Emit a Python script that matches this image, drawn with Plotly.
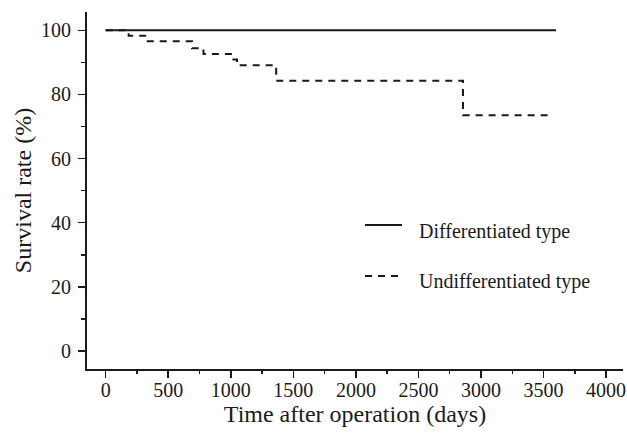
import plotly.graph_objects as go

# Kaplan-Meier style survival data
diff_days = [0, 3600]
diff_surv = [100, 100]

undiff_days = [0, 184, 325, 690, 782, 1010, 1050, 1363, 2856, 3570]
undiff_surv = [100, 98.3, 96.6, 94.4, 92.6, 90.9, 89.1, 84.3, 73.5, 73.5]

x_ticks = [0, 500, 1000, 1500, 2000, 2500, 3000, 3500, 4000]
y_ticks = [0, 20, 40, 60, 80, 100]

legend_names = ["Differentiated type", "Undifferentiated type"]

FONT = "Liberation Serif, Times New Roman, serif"
INK = "#1a1a1a"

W, H = 627, 444
ML, MR, MT, MB = 87, 4, 12, 75

fig = go.Figure()
fig.add_trace(go.Scatter(x=diff_days, y=diff_surv, mode="lines",
                         line=dict(color=INK, width=2, shape="hv"),
                         name=legend_names[0], showlegend=False, hoverinfo="skip"))
fig.add_trace(go.Scatter(x=undiff_days, y=undiff_surv, mode="lines",
                         line=dict(color=INK, width=2, shape="hv", dash="7px,6px"),
                         name=legend_names[1], showlegend=False, hoverinfo="skip"))

# manual legend
PH = 369 - 12
PW = 623 - 87
leg_line_y = [225, 276]
leg_text_y = [231, 281]
for i, (name, dash) in enumerate(zip(legend_names, ["solid", "7px,6px"])):
    y_line = (369 - leg_line_y[i]) / PH
    y_text = (369 - leg_text_y[i]) / PH
    fig.add_shape(type="line", xref="paper", yref="paper",
                  x0=(365 - 87) / PW, x1=(402 - 87) / PW, y0=y_line, y1=y_line,
                  line=dict(color=INK, width=2, dash=dash))
    fig.add_annotation(x=(417 - 87) / PW, y=y_text, xref="paper", yref="paper",
                       text=name, showarrow=False, xanchor="left", yanchor="middle",
                       font=dict(family=FONT, size=20, color=INK))

fig.update_layout(
    width=W, height=H,
    margin=dict(l=ML, r=MR, t=MT, b=MB),
    plot_bgcolor="white", paper_bgcolor="white",
    font=dict(family=FONT, size=20, color=INK),
    hovermode=False,
    xaxis=dict(range=[-149, 4135], tickvals=x_ticks, ticktext=[str(v) for v in x_ticks],
               showgrid=False, zeroline=False, showline=True, linecolor=INK, linewidth=2,
               ticks="outside", ticklen=7, tickwidth=1.5, tickcolor=INK, automargin=False,
               ticklabelstandoff=-5,
               minor=dict(tickvals=[250, 750, 1250, 1750, 2250, 2750, 3250, 3750],
                          ticks="outside", ticklen=3, tickwidth=1.5, tickcolor=INK),
               title=dict(text="Time after operation (days)", font=dict(size=24), standoff=2),
               tickfont=dict(size=20)),
    yaxis=dict(range=[-5.6, 105.7], tickvals=y_ticks, ticktext=[str(v) for v in y_ticks],
               showgrid=False, zeroline=False, showline=True, linecolor=INK, linewidth=2,
               ticks="outside", ticklen=7, tickwidth=1.5, tickcolor=INK, automargin=False,
               ticklabelstandoff=3,
               minor=dict(tickvals=[10, 30, 50, 70, 90],
                          ticks="outside", ticklen=4, tickwidth=1.5, tickcolor=INK),
               title=dict(text="Survival rate (%)", font=dict(size=24), standoff=3),
               tickfont=dict(size=20)),
)

fig.write_html("out.html",
               config={"displayModeBar": False, "staticPlot": True},
               post_script="document.documentElement.style.margin='0';"
                           "document.body.style.margin='0';"
                           "document.body.style.overflow='hidden';")
